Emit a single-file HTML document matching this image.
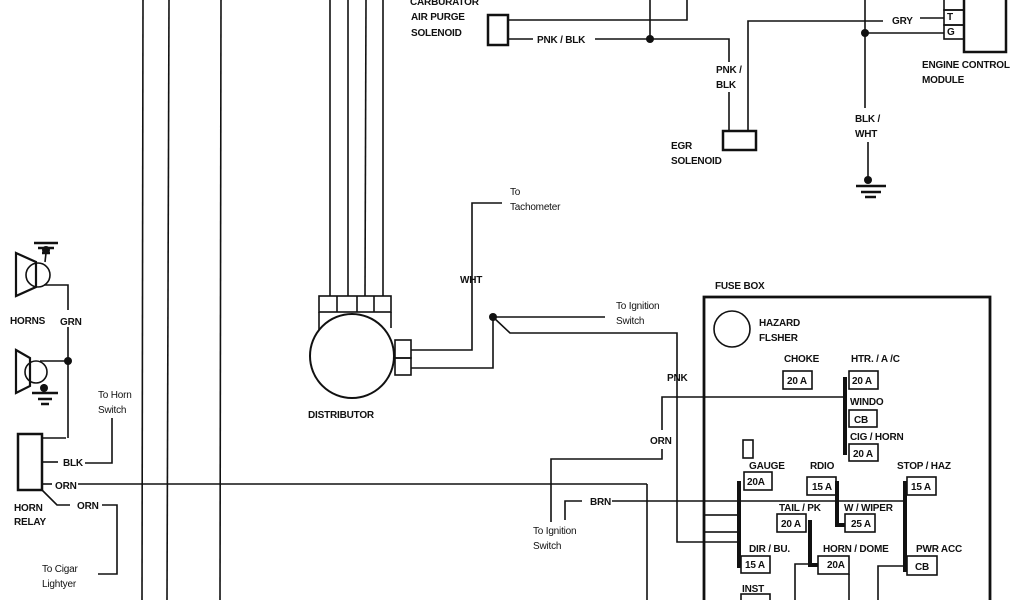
<!DOCTYPE html>
<html><head><meta charset="utf-8"><style>
html,body{margin:0;padding:0;background:#fff}
svg{display:block}
text{font-family:"Liberation Sans",Arial,sans-serif;font-size:10px;fill:#111;font-weight:bold;letter-spacing:-0.2px}
</style></head><body>
<svg width="1024" height="600" viewBox="0 0 1024 600" xmlns="http://www.w3.org/2000/svg">
<g stroke="#111" stroke-width="1.6" fill="none">
<!-- long verticals -->
<line x1="143" y1="0" x2="142" y2="600"/>
<line x1="169" y1="0" x2="167" y2="600"/>
<line x1="221" y1="0" x2="220" y2="600"/>
<!-- distributor wires -->
<line x1="330" y1="0" x2="330" y2="296"/>
<line x1="348" y1="0" x2="348" y2="296"/>
<line x1="366" y1="0" x2="365" y2="296"/>
<line x1="383" y1="0" x2="383" y2="296"/>
<!-- distributor -->
<rect x="319" y="296" width="72" height="16"/>
<line x1="337" y1="296" x2="337" y2="312"/><line x1="357" y1="296" x2="357" y2="312"/><line x1="374" y1="296" x2="374" y2="312"/>
<line x1="319" y1="312" x2="319" y2="330"/><line x1="391" y1="312" x2="391" y2="328"/>
<circle cx="352" cy="356" r="42" stroke-width="2"/>
<rect x="395" y="340" width="16" height="18"/><rect x="395" y="358" width="16" height="17"/>
<polyline points="411,350 472,350 472,203 502,203"/>
<polyline points="411,368 493,368 493,317 605,317"/>
<polyline points="493,317 510,333 677,333 677,542 740,542"/>
<!-- carb solenoid -->
<rect x="488" y="15" width="20" height="30" stroke-width="2.5"/>
<polyline points="508,20 687,20 687,0"/>
<line x1="508" y1="39" x2="533" y2="39"/>
<polyline points="595,39 729,39 729,62"/><line x1="729" y1="92" x2="729" y2="131"/>
<line x1="650" y1="0" x2="650" y2="39"/>
<rect x="723" y="131" width="33" height="19" stroke-width="2.5"/>
<polyline points="748,131 748,21 883,21"/>
<line x1="920" y1="18" x2="944" y2="18"/>
<line x1="865" y1="0" x2="865" y2="108"/>
<line x1="865" y1="33" x2="944" y2="33"/>
<line x1="868" y1="142" x2="868" y2="178"/>
<!-- ECM -->
<rect x="944" y="-2" width="20" height="12"/>
<rect x="944" y="10" width="20" height="15"/>
<rect x="944" y="25" width="20" height="14"/>
<polyline points="964,0 964,52 1006,52 1006,0" stroke-width="2.5"/>
<!-- horns -->
<polygon points="16,253 36,262 36,287 16,296" stroke-width="2.2"/>
<circle cx="38" cy="275" r="12"/>
<polyline points="44,285 68,285 68,310"/>
<line x1="68" y1="327" x2="68" y2="438"/>
<line x1="45" y1="262" x2="46" y2="253"/>
<polygon points="16,350 30,358 30,386 16,393" stroke-width="2.2"/>
<circle cx="36" cy="372" r="11"/>
<line x1="40" y1="361" x2="68" y2="361"/>
<line x1="44" y1="384" x2="44" y2="392"/>
<rect x="18" y="434" width="24" height="56" stroke-width="2.5"/>
<line x1="42" y1="438" x2="66" y2="438"/>
<line x1="42" y1="462" x2="58" y2="462"/>
<polyline points="85,463 112,463 112,418"/>
<line x1="42" y1="484" x2="52" y2="484"/>
<line x1="78" y1="484" x2="647" y2="484"/><line x1="647" y1="484" x2="647" y2="600"/>
<polyline points="42,490 57,505 70,505"/>
<polyline points="102,505 117,505 117,574 98,574"/>
<!-- ORN / BRN -->
<polyline points="845,397 662,397 662,430"/>
<polyline points="662,449 662,459 551,459 551,522"/>
<polyline points="565,520 565,501 582,501"/>
<line x1="612" y1="501" x2="905" y2="501"/>
<!-- fuse box -->
<polyline points="704,600 704,297 990,297 990,600" stroke-width="2.8"/>
<circle cx="732" cy="329" r="18"/>
<rect x="783" y="371" width="29" height="18"/>
<rect x="849" y="371" width="29" height="18"/>
<rect x="849" y="410" width="28" height="17"/>
<rect x="849" y="444" width="29" height="17"/>
<rect x="743" y="440" width="10" height="18"/>
<rect x="744" y="472" width="28" height="18"/>
<rect x="704" y="515" width="34" height="17"/>
<rect x="741" y="556" width="29" height="17"/>
<rect x="741" y="594" width="29" height="10"/>
<rect x="807" y="477" width="29" height="18"/>
<rect x="845" y="514" width="30" height="18"/>
<rect x="777" y="514" width="29" height="18"/>
<rect x="818" y="556" width="31" height="18"/>
<rect x="907" y="477" width="29" height="18"/>
<rect x="907" y="556" width="30" height="19"/>
<polyline points="795,600 795,564 818,564"/>
<line x1="849" y1="574" x2="849" y2="600"/>
<polyline points="905,566 878,566 878,600"/>
</g>
<g stroke="#111" stroke-width="4" fill="none">
<line x1="845" y1="377" x2="845" y2="455"/>
<line x1="739" y1="481" x2="739" y2="568"/>
<polyline points="837,481 837,525 845,525"/>
<polyline points="810,520 810,565 818,565"/>
<line x1="905" y1="481" x2="905" y2="572"/>
</g>
<g stroke="#111" stroke-width="2.5">
<line x1="34" y1="243" x2="58" y2="243"/><line x1="38" y1="248" x2="54" y2="248"/><line x1="42" y1="253" x2="50" y2="253"/>
<line x1="32" y1="393" x2="58" y2="393"/><line x1="38" y1="399" x2="52" y2="399"/><line x1="41" y1="404" x2="49" y2="404"/>
<line x1="856" y1="186" x2="886" y2="186"/><line x1="861" y1="192" x2="881" y2="192"/><line x1="865" y1="197" x2="876" y2="197"/>
</g>
<g fill="#111">
<circle cx="650" cy="39" r="4"/><circle cx="865" cy="33" r="4"/><circle cx="68" cy="361" r="4"/>
<circle cx="493" cy="317" r="4"/><circle cx="868" cy="180" r="4"/><circle cx="46" cy="250" r="4"/><circle cx="44" cy="388" r="4"/>
</g>
<text x="410" y="5">CARBURATOR</text>
<text x="411" y="20">AIR PURGE</text>
<text x="411" y="36">SOLENOID</text>
<text x="537" y="43">PNK / BLK</text>
<text x="716" y="73">PNK /</text><text x="716" y="88">BLK</text>
<text x="671" y="149">EGR</text><text x="671" y="164">SOLENOID</text>
<text x="892" y="24">GRY</text>
<text x="947" y="20" font-size="8">T</text><text x="947" y="35" font-size="8">G</text>
<text x="922" y="68">ENGINE CONTROL</text><text x="922" y="83">MODULE</text>
<text x="855" y="122">BLK /</text><text x="855" y="137">WHT</text>
<text x="510" y="195" style="font-weight:normal">To</text><text x="510" y="210" style="font-weight:normal">Tachometer</text>
<text x="460" y="283">WHT</text>
<text x="616" y="309" style="font-weight:normal">To Ignition</text><text x="616" y="324" style="font-weight:normal">Switch</text>
<text x="308" y="418">DISTRIBUTOR</text>
<text x="10" y="324">HORNS</text><text x="60" y="325">GRN</text>
<text x="98" y="398" style="font-weight:normal">To Horn</text><text x="98" y="413" style="font-weight:normal">Switch</text>
<text x="63" y="466">BLK</text><text x="55" y="489">ORN</text><text x="77" y="509">ORN</text>
<text x="14" y="511">HORN</text><text x="14" y="525">RELAY</text>
<text x="42" y="572" style="font-weight:normal">To Cigar</text><text x="42" y="587" style="font-weight:normal">Lightyer</text>
<text x="715" y="289">FUSE BOX</text>
<text x="759" y="326">HAZARD</text><text x="759" y="341">FLSHER</text>
<text x="784" y="362">CHOKE</text><text x="851" y="362">HTR. / A /C</text>
<text x="787" y="384">20 A</text><text x="852" y="384">20 A</text>
<text x="850" y="405">WINDO</text><text x="854" y="423">CB</text>
<text x="850" y="440">CIG / HORN</text><text x="853" y="457">20 A</text>
<text x="667" y="381">PNK</text><text x="650" y="444">ORN</text>
<text x="590" y="505">BRN</text>
<text x="533" y="534" style="font-weight:normal">To Ignition</text><text x="533" y="549" style="font-weight:normal">Switch</text>
<text x="749" y="469">GAUGE</text><text x="747" y="485">20A</text>
<text x="810" y="469">RDIO</text><text x="812" y="490">15 A</text>
<text x="897" y="469">STOP / HAZ</text><text x="911" y="490">15 A</text>
<text x="779" y="511">TAIL / PK</text><text x="844" y="511">W / WIPER</text>
<text x="781" y="527">20 A</text><text x="851" y="527">25 A</text>
<text x="749" y="552">DIR / BU.</text><text x="823" y="552">HORN / DOME</text><text x="916" y="552">PWR ACC</text>
<text x="745" y="568">15 A</text><text x="827" y="568">20A</text><text x="915" y="570">CB</text>
<text x="742" y="592">INST</text>
</svg>
</body></html>
